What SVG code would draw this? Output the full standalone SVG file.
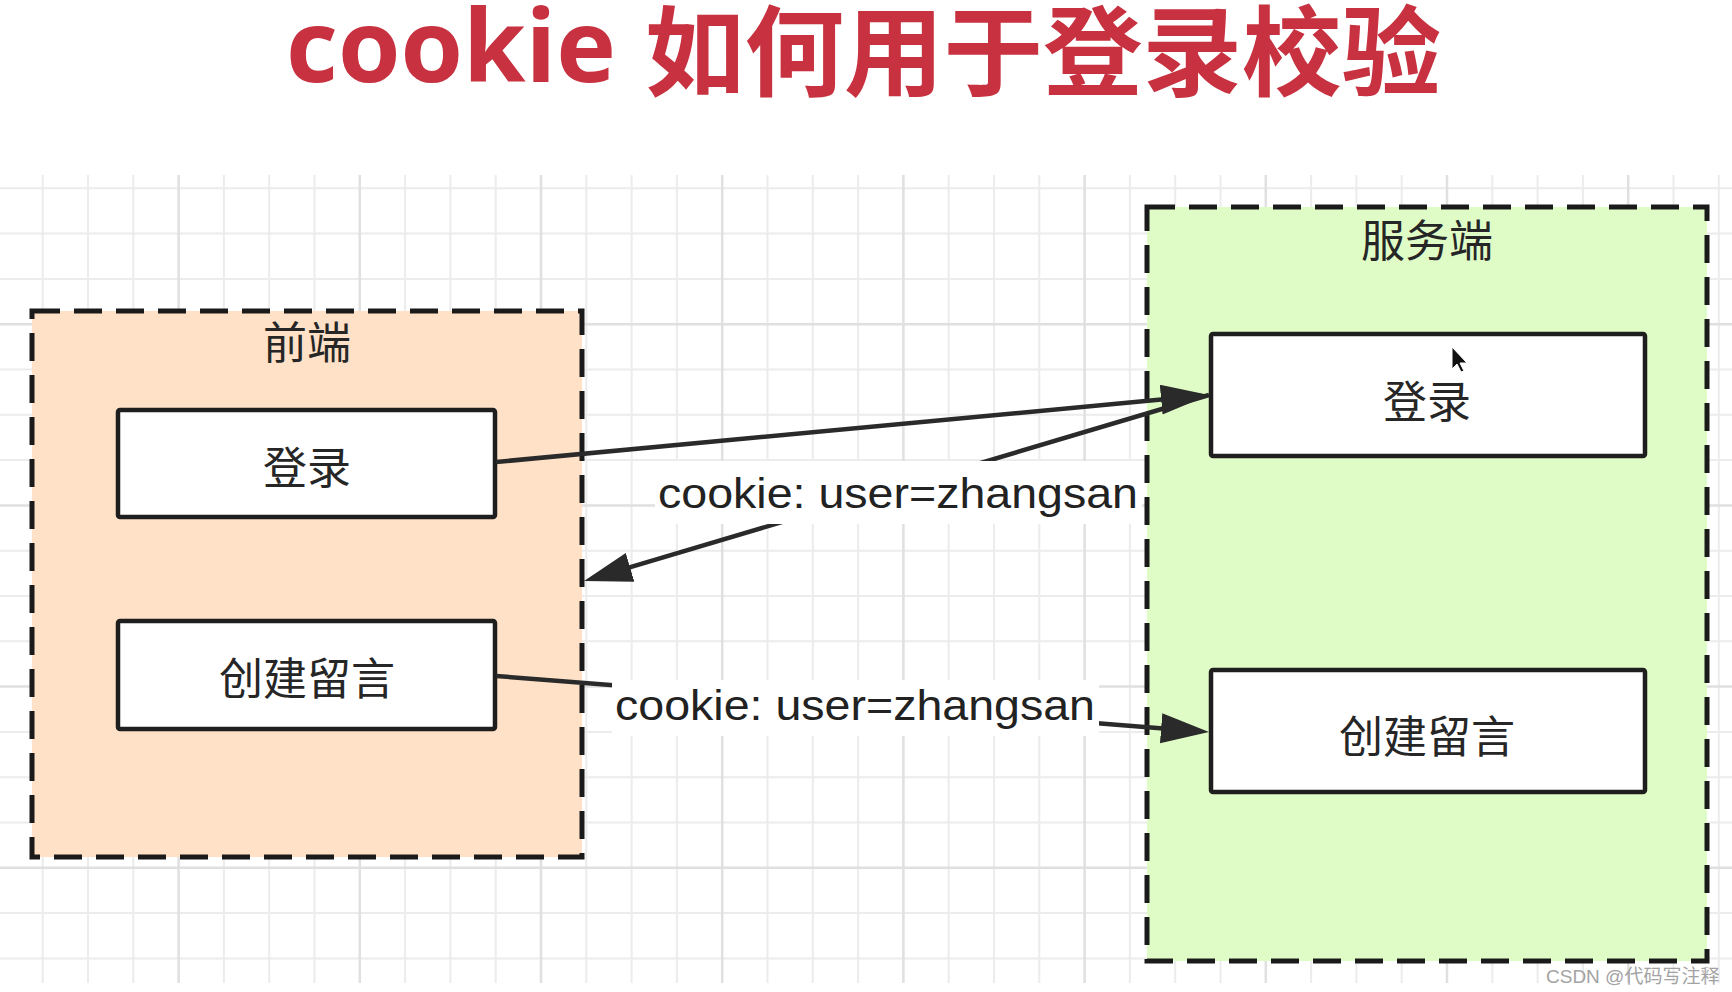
<svg xmlns="http://www.w3.org/2000/svg" width="1732" height="992" viewBox="0 0 1732 992">
  <style>
    .grid-minor { stroke: #ececec; stroke-width: 2; fill: none; }
    .grid-major { stroke: #e0e0e0; stroke-width: 2.5; fill: none; }
    .container { stroke: #1a1a1a; stroke-width: 5; stroke-dasharray: 28 14; }
    .box { fill: #ffffff; stroke: #1e1e1e; stroke-width: 4.5; }
    .cjk { font-family: "Noto Sans CJK SC", "Noto Sans", sans-serif; font-size: 44px; fill: #262626; text-anchor: middle; dominant-baseline: central; }
    .edge { stroke: #2a2a2a; stroke-width: 4.5; fill: none; }
    .label-bg { fill: #ffffff; }
    .label { font-family: "Liberation Sans", Arial, sans-serif; font-size: 42px; fill: #222222; }
  </style>
  <defs>
    <marker id="arrow" markerUnits="userSpaceOnUse" markerWidth="50" markerHeight="32" refX="40" refY="15" orient="auto">
      <path d="M0,0 L48,15 L0,30 Z" fill="#2a2a2a"/>
    </marker>
  </defs>

  <rect x="0" y="0" width="1732" height="992" fill="#ffffff"/>

  <g id="grid">
    <path class="grid-minor" d="M42.7 175V983M88 175V983M133.3 175V983M223.9 175V983M269.2 175V983M314.5 175V983M405.1 175V983M450.4 175V983M495.7 175V983M586.3 175V983M631.6 175V983M676.9 175V983M767.5 175V983M812.8 175V983M858.1 175V983M948.7 175V983M994 175V983M1039.3 175V983M1129.9 175V983M1175.2 175V983M1220.5 175V983M1311.1 175V983M1356.4 175V983M1401.7 175V983M1492.3 175V983M1537.6 175V983M1582.9 175V983M1673.5 175V983M1718.8 175V983"/>
    <path class="grid-minor" d="M0 188.3H1732M0 233.6H1732M0 278.9H1732M0 369.5H1732M0 414.8H1732M0 460.1H1732M0 550.7H1732M0 596H1732M0 641.3H1732M0 731.9H1732M0 777.2H1732M0 822.5H1732M0 913.1H1732M0 958.4H1732"/>
    <path class="grid-major" d="M178.6 175V983M359.8 175V983M541 175V983M722.2 175V983M903.4 175V983M1084.6 175V983M1265.8 175V983M1447 175V983M1628.2 175V983M0 324.2H1732M0 505.4H1732M0 686.6H1732M0 867.8H1732"/>
  </g>

  <g id="title">
    <text font-family="'Open Sans', 'Liberation Sans', sans-serif" font-weight="700" font-size="100" fill="#c8313f" x="286" y="82" textLength="330" lengthAdjust="spacingAndGlyphs">cookie</text>
    <text font-family="'Noto Sans CJK SC', sans-serif" font-weight="700" font-size="98" fill="#c8313f" x="645" y="88" textLength="796" lengthAdjust="spacingAndGlyphs">如何用于登录校验</text>
  </g>

  <g id="frontend">
    <rect class="container" x="32" y="311" width="550" height="546" fill="#fee1c6"/>
    <text class="cjk" x="307" y="340">前端</text>
  </g>

  <g id="server">
    <rect class="container" x="1147" y="207" width="560" height="754" fill="#e0fcc6"/>
    <text class="cjk" x="1427" y="238">服务端</text>
  </g>

  <g id="front-login">
    <rect class="box" x="118" y="410" width="377" height="107" rx="2"/>
    <text class="cjk" x="307" y="465">登录</text>
  </g>

  <g id="front-create">
    <rect class="box" x="118" y="621" width="377" height="108" rx="2"/>
    <text class="cjk" x="307" y="676">创建留言</text>
  </g>

  <g id="server-login">
    <rect class="box" x="1211" y="334" width="434" height="122" rx="2"/>
    <text class="cjk" x="1427" y="399">登录</text>
  </g>

  <g id="server-create">
    <rect class="box" x="1211" y="670" width="434" height="122" rx="2"/>
    <text class="cjk" x="1427" y="734">创建留言</text>
  </g>

  <g id="connectors">
    <path class="edge" d="M496,462 L1201,395.8" marker-end="url(#arrow)"/>
    <path class="edge" d="M1209,395 L591.7,578.7" marker-end="url(#arrow)"/>
    <path class="edge" d="M496,676 L1201,731.4" marker-end="url(#arrow)"/>
    <rect class="label-bg" x="655" y="461" width="487" height="63"/>
    <text class="label" x="658" y="508" textLength="480" lengthAdjust="spacingAndGlyphs">cookie: user=zhangsan</text>
    <rect class="label-bg" x="612" y="680" width="487" height="56"/>
    <text class="label" x="615" y="720" textLength="480" lengthAdjust="spacingAndGlyphs">cookie: user=zhangsan</text>
  </g>

  <g id="cursor">
    <path d="M1452,347 L1452,369 L1457,364 L1461,372 L1464,371 L1460,363 L1467,363 Z" fill="#111111" stroke="#ffffff" stroke-width="1"/>
  </g>

  <g id="watermark">
    <text font-family="'Liberation Sans', 'Noto Sans CJK SC', sans-serif" font-size="19" fill="#a3a3a3" x="1546" y="983">CSDN @代码写注释</text>
  </g>
</svg>
